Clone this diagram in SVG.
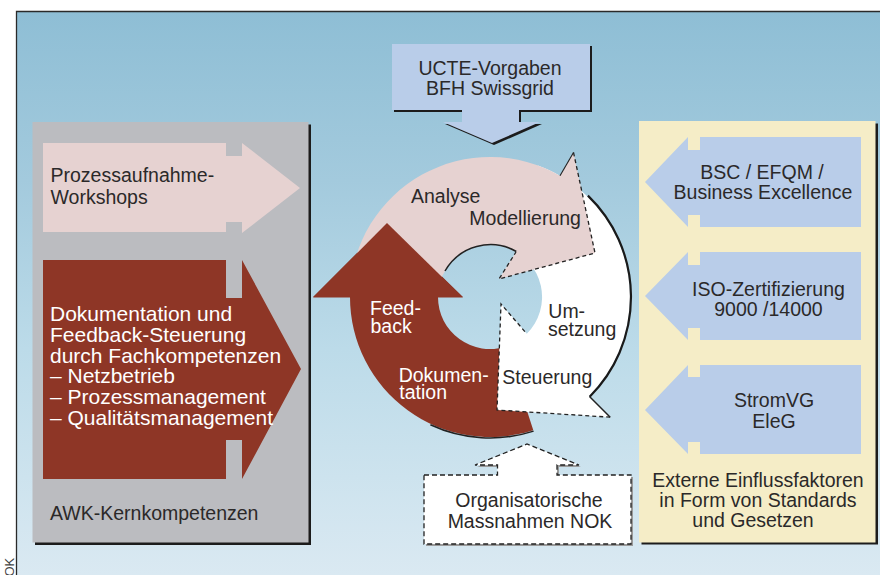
<svg xmlns="http://www.w3.org/2000/svg" width="880" height="575" viewBox="0 0 880 575">
<defs>
<linearGradient id="bg" x1="0" y1="0" x2="0" y2="1">
<stop offset="0" stop-color="#8ebed5"/>
<stop offset="0.3" stop-color="#a3cadd"/>
<stop offset="0.6" stop-color="#bcdbe9"/>
<stop offset="1" stop-color="#dae9f2"/>
</linearGradient>
</defs>
<style>
text { font-family: "Liberation Sans", Arial, sans-serif; font-size: 19.5px; fill: #2b2929; }
.w { fill: #ffffff; }
.c { text-anchor: middle; }
.big { font-size: 21px; }
.blue { fill: #b9cde9; }
.shadow { fill: #1c1c1c; }
.dash { fill: none; stroke: #222; stroke-width: 1.3; stroke-dasharray: 4 3; }
.edge { fill: none; stroke: #222; stroke-width: 1.5; }
.pink { fill: #e6d2d1; }
.brown { fill: #8e3626; }
.white { fill: #ffffff; }
</style>

<rect x="0" y="0" width="880" height="575" fill="#ffffff"/>
<rect x="16.5" y="11" width="863.5" height="564" fill="url(#bg)"/>
<path d="M16.5,575 V11.5 H880" fill="none" stroke="#2a2a2a" stroke-width="1.3"/>
<text transform="translate(14,586) rotate(-90)" style="font-size:13px;fill:#444">NOK</text>

<!-- Left panel -->
<g id="panel-awk">
<rect class="shadow" x="35" y="124.5" width="276" height="420.5"/>
<rect x="32.5" y="122" width="276" height="420.5" fill="#bbbcc0"/>
<text x="50" y="520">AWK-Kernkompetenzen</text>
</g>

<g id="node-workshops">
<path class="pink" d="M43,143 H226 V156 H242 V143 L300,188 L242,233 V222 H226 V232 H43 Z"/>
<text x="50.5" y="181.5">Prozessaufnahme-</text>
<text x="50.5" y="204.3">Workshops</text>
</g>

<g id="node-dokumentation">
<path class="brown" d="M43,260 H226 V298 H242 V260 L301,369 L242,479 V440 H226 V479 H43 Z"/>
<text class="w big" x="50" y="321">Dokumentation und</text>
<text class="w big" x="50" y="341.8">Feedback-Steuerung</text>
<text class="w big" x="50" y="362.6">durch Fachkompetenzen</text>
<text class="w big" x="50" y="383.4">– Netzbetrieb</text>
<text class="w big" x="50" y="404.2">– Prozessmanagement</text>
<text class="w big" x="50" y="425">– Qualitätsmanagement</text>
</g>

<!-- Right panel -->
<g id="panel-extern">
<rect class="shadow" x="641.5" y="123.5" width="236.5" height="421"/>
<rect x="639" y="121" width="236.5" height="421.5" fill="#f5edc7"/>
<text class="c" x="758" y="487.3">Externe Einflussfaktoren</text>
<text class="c" x="758" y="507.3">in Form von Standards</text>
<text class="c" x="753" y="527.3">und Gesetzen</text>
</g>

<g id="node-bsc">
<path class="blue" d="M861,137 H700 V150 H688 V137 L645,182 L688,227 V215 H700 V227 H861 Z"/>
<text class="c" x="762" y="179">BSC / EFQM /</text>
<text class="c" x="763" y="199.3">Business Excellence</text>
</g>

<g id="node-iso">
<path class="blue" d="M861,252 H700 V265 H688 V252 L645,296 L688,340 V328 H700 V340 H861 Z"/>
<text class="c" x="768.5" y="295.5">ISO-Zertifizierung</text>
<text class="c" x="768.5" y="315.7">9000 /14000</text>
</g>

<g id="node-strom">
<path class="blue" d="M861,365 H700 V377 H688 V365 L645,410 L688,454 V442 H700 V454 H861 Z"/>
<text class="c" x="774" y="406.7">StromVG</text>
<text class="c" x="774" y="427.7">EleG</text>
</g>

<!-- Top input -->
<g id="node-ucte">
<path class="shadow" transform="translate(2,2)" d="M392,44 H590 V110 H519 V122 H540 L492,143 L443,122 H462 V110 H392 Z"/>
<path class="blue" d="M392,44 H590 V110 H519 V122 H540 L492,143 L443,122 H462 V110 H392 Z"/>
<text class="c" x="490" y="75">UCTE-Vorgaben</text>
<text class="c" x="490" y="95">BFH Swissgrid</text>
</g>

<!-- Bottom input -->
<g id="node-nok">
<path transform="translate(2,2)" fill="#9a9a9a" d="M424,475 H497.5 V465 H475 L527,444 L579,465 H557 V475 H631 V544 H424 Z"/>
<path fill="#ffffff" stroke="#222" stroke-width="1.3" stroke-dasharray="5 3" d="M424,475 H497.5 V465 H475 L527,444 L579,465 H557 V475 H631 V544 H424 Z"/>
<text class="c" x="529" y="507">Organisatorische</text>
<text class="c" x="530" y="527.7">Massnahmen NOK</text>
</g>

<!-- Cycle -->
<g id="connectors">
<g id="cycle-feedback-band">
<path class="brown" d="M533.3,430.2 A140,140 0 0 1 350,297 L313,297 L387,223 L463,297 L438,297 A52,52 0 0 0 506.1,346.5 Z"/>
<path class="edge" d="M533.6,431.1 A141,141 0 0 1 430.4,424.8"/>
</g>
<g id="cycle-umsetzung">
<path class="white" d="M537.9,165.4 A140,140 0 0 1 589,396 L610.2,417.2 L497,410 L501,304 L526.8,333.8 A52,52 0 0 0 507.8,248.1 Z"/>
<path fill="none" stroke="#1a1a1a" stroke-width="2.2" d="M587.9,195.6 A141,141 0 0 1 589.7,396.7"/>
<path class="edge" d="M589.5,396.5 L610.2,417.2"/>
<path class="dash" d="M610.2,417.2 L497,410 L501,304 L526.8,333.8"/>
</g>
<g id="cycle-analyse">
<path class="pink" d="M350.1,292.1 A140,140 0 0 1 560,175.8 L573.5,152.4 L595,253 L499,279 L516,252 A52,52 0 0 0 438,295.2 Z"/>
<path class="edge" d="M445,271 A52.5,52.5 0 0 1 516.3,251.5"/>
<path fill="none" stroke="#222" stroke-width="1.1" d="M560,175.8 L573.5,152.4"/>
<path class="dash" d="M573.5,152.4 L595,253 L499,279 L516,252"/>
</g>
<g id="cycle-feedback-head">
<path class="brown" d="M313,297.6 L387,223 L463,297.6 Z"/>
</g>
</g>

<g id="cycle-labels">
<text x="411" y="203.3">Analyse</text>
<text x="469.3" y="225">Modellierung</text>
<text class="w" x="370" y="315">Feed-</text>
<text class="w" x="370.5" y="333.3">back</text>
<text x="548.3" y="317.7">Um-</text>
<text x="548" y="335.7">setzung</text>
<text class="w" x="398.7" y="381.7">Dokumen-</text>
<text class="w" x="399.3" y="399">tation</text>
<text x="502.3" y="384">Steuerung</text>
</g>
</svg>
